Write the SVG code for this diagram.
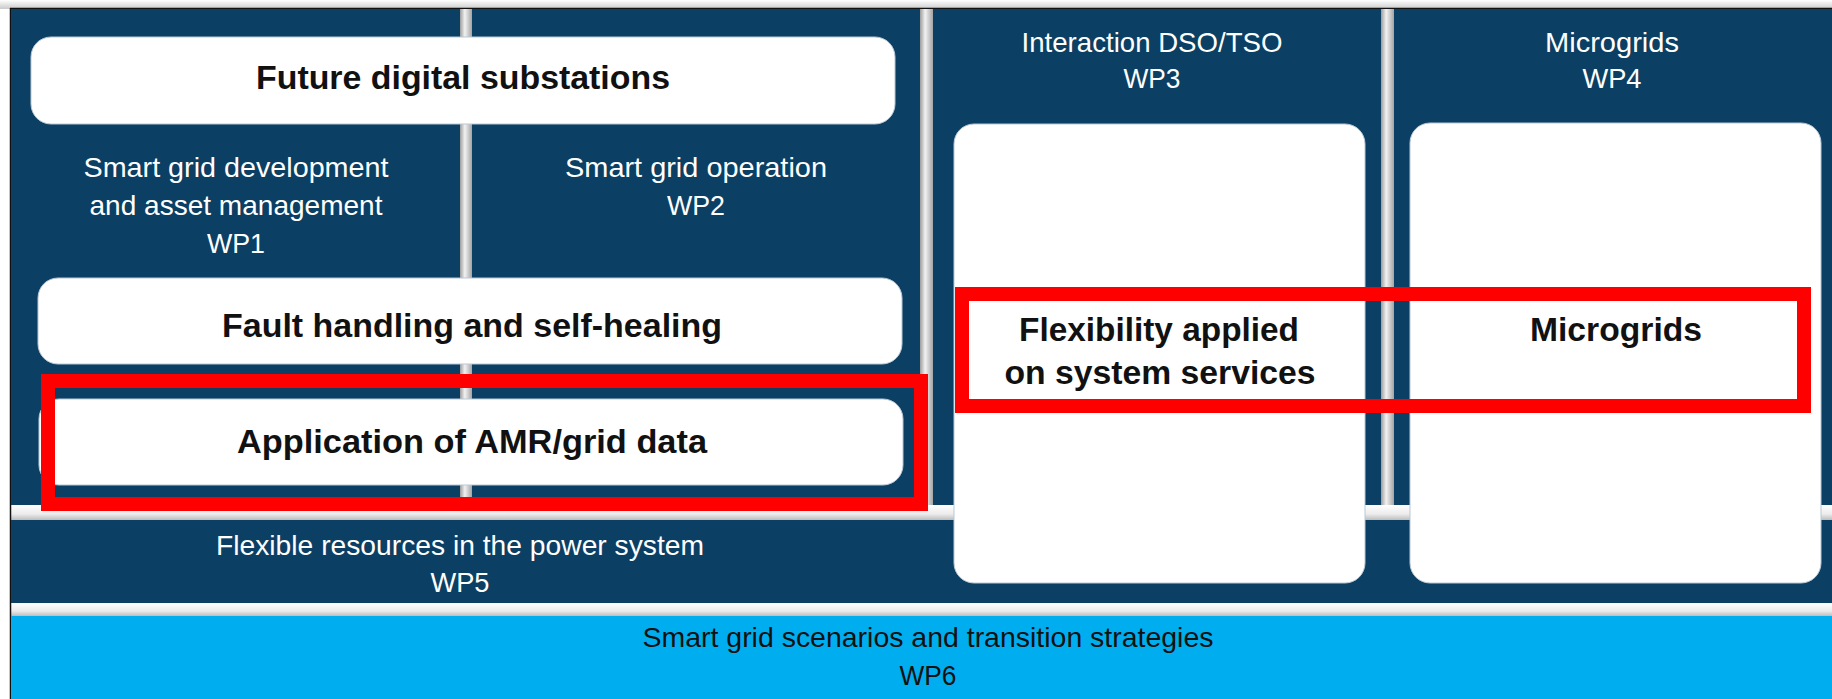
<svg xmlns="http://www.w3.org/2000/svg" width="1832" height="699" viewBox="0 0 1832 699">
  <defs>
    <linearGradient id="sep" x1="0" y1="0" x2="1" y2="0">
      <stop offset="0" stop-color="#9c9c9c"/>
      <stop offset="0.4" stop-color="#f2f2f2"/>
      <stop offset="1" stop-color="#a4a4a4"/>
    </linearGradient>
    <linearGradient id="gap" x1="0" y1="0" x2="0" y2="1">
      <stop offset="0" stop-color="#ffffff"/>
      <stop offset="0.6" stop-color="#ececec"/>
      <stop offset="1" stop-color="#bdbdbd"/>
    </linearGradient>
    <linearGradient id="topShade" x1="0" y1="0" x2="0" y2="1">
      <stop offset="0" stop-color="#ffffff"/>
      <stop offset="1" stop-color="#c9c9c9"/>
    </linearGradient>
  </defs>
  <style>
    .panel { fill: #0b3f63; }
    .box { fill: #ffffff; stroke: #b9c8d6; stroke-width: 1; }
    .sep { fill: url(#sep); }
    .gap { fill: url(#gap); }
    .title { font-family: "Liberation Sans", Arial, sans-serif; font-weight: bold; font-size: 34px; fill: #111111; text-anchor: middle; }
    .label { font-family: "Liberation Sans", Arial, sans-serif; font-size: 28px; fill: #ffffff; text-anchor: middle; }
    .label.dark { fill: #111111; }
    .mark { fill: none; stroke: #ff0000; stroke-width: 14; }
  </style>

  <!-- page background and outer frame -->
  <rect x="0" y="0" width="1832" height="699" fill="#ffffff"/>
  <rect x="0" y="0" width="1832" height="9" fill="url(#topShade)"/>
  <rect x="10" y="8" width="1822" height="691" fill="#f0f0f0"/>
  <rect x="11" y="505" width="1821" height="15" class="gap"/>
  <rect x="11" y="603" width="1821" height="13" class="gap"/>
  <line x1="10" y1="8.5" x2="1832" y2="8.5" stroke="#111111" stroke-width="1.5"/>
  <line x1="10.5" y1="8" x2="10.5" y2="699" stroke="#111111" stroke-width="1.5"/>

  <!-- work package columns -->
  <g id="wp1">
    <rect x="11" y="9" width="449" height="496" class="panel"/>
    <text class="label" x="236" y="177" textLength="305" lengthAdjust="spacingAndGlyphs">Smart grid development</text>
    <text class="label" x="236" y="215" textLength="293" lengthAdjust="spacingAndGlyphs">and asset management</text>
    <text class="label" x="236" y="253" textLength="58" lengthAdjust="spacingAndGlyphs">WP1</text>
  </g>
  <g id="wp2">
    <rect x="472" y="9" width="448" height="496" class="panel"/>
    <text class="label" x="696" y="177" textLength="262" lengthAdjust="spacingAndGlyphs">Smart grid operation</text>
    <text class="label" x="696" y="215" textLength="58" lengthAdjust="spacingAndGlyphs">WP2</text>
  </g>
  <g id="wp3">
    <rect x="933" y="9" width="448" height="496" class="panel"/>
    <text class="label" x="1152" y="52" textLength="261" lengthAdjust="spacingAndGlyphs">Interaction DSO/TSO</text>
    <text class="label" x="1152" y="88" textLength="57" lengthAdjust="spacingAndGlyphs">WP3</text>
  </g>
  <g id="wp4">
    <rect x="1394" y="9" width="438" height="496" class="panel"/>
    <text class="label" x="1612" y="52" textLength="134" lengthAdjust="spacingAndGlyphs">Microgrids</text>
    <text class="label" x="1612" y="88" textLength="59" lengthAdjust="spacingAndGlyphs">WP4</text>
  </g>

  <!-- column separators -->
  <g id="separators">
    <rect x="460" y="9" width="12" height="496" class="sep"/>
    <rect x="920" y="9" width="13" height="496" class="sep"/>
    <rect x="1381" y="9" width="13" height="496" class="sep"/>
  </g>

  <!-- horizontal bands -->
  <g id="wp5">
    <rect x="11" y="520" width="1821" height="83" class="panel"/>
    <text class="label" x="460" y="555" textLength="488" lengthAdjust="spacingAndGlyphs">Flexible resources in the power system</text>
    <text class="label" x="460" y="592" textLength="59" lengthAdjust="spacingAndGlyphs">WP5</text>
  </g>
  <g id="wp6">
    <rect x="11" y="616" width="1821" height="83" fill="#00aeef"/>
    <text class="label dark" x="928" y="647" textLength="571" lengthAdjust="spacingAndGlyphs">Smart grid scenarios and transition strategies</text>
    <text class="label dark" x="928" y="685" textLength="57" lengthAdjust="spacingAndGlyphs">WP6</text>
  </g>

  <!-- topic boxes -->
  <g id="future-digital-substations">
    <rect x="31" y="37" width="864" height="87" rx="20" class="box"/>
    <text class="title" x="463" y="89" textLength="414" lengthAdjust="spacingAndGlyphs">Future digital substations</text>
  </g>
  <g id="fault-handling">
    <rect x="38" y="278" width="864" height="86" rx="20" class="box"/>
    <text class="title" x="472" y="337" textLength="500" lengthAdjust="spacingAndGlyphs">Fault handling and self-healing</text>
  </g>
  <g id="amr-grid-data">
    <rect x="39" y="399" width="864" height="86" rx="20" class="box"/>
    <text class="title" x="472" y="453" textLength="470" lengthAdjust="spacingAndGlyphs">Application of AMR/grid data</text>
  </g>
  <g id="flexibility-system-services">
    <rect x="954" y="124" width="411" height="459" rx="20" class="box"/>
    <text class="title" x="1159" y="341" textLength="280" lengthAdjust="spacingAndGlyphs">Flexibility applied</text>
    <text class="title" x="1160" y="384" textLength="311" lengthAdjust="spacingAndGlyphs">on system services</text>
  </g>
  <g id="microgrids">
    <rect x="1410" y="123" width="411" height="460" rx="20" class="box"/>
    <text class="title" x="1616" y="341" textLength="172" lengthAdjust="spacingAndGlyphs">Microgrids</text>
  </g>

  <!-- red highlight frames -->
  <g id="highlights">
    <rect x="48" y="381" width="873" height="123" class="mark"/>
    <rect x="962" y="294" width="842" height="112" class="mark"/>
  </g>
</svg>
